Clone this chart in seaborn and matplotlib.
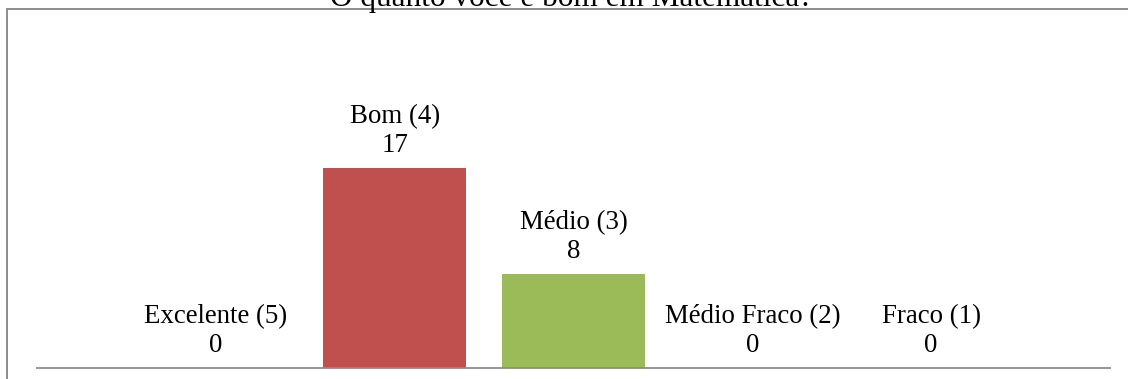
import matplotlib
matplotlib.use("Agg")
import matplotlib.pyplot as plt
import seaborn as sns
from matplotlib.lines import Line2D

# Survey answers: "How good are you at Mathematics?"
categories = ["Excelente (5)", "Bom (4)", "Médio (3)", "Médio Fraco (2)", "Fraco (1)"]
counts = [0, 17, 8, 0, 0]
colors = ["#4F81BD", "#C0504D", "#9BBB59", "#8064A2", "#4BACC6"]
title = "O quanto você é bom em Matemática?"

sns.set_style("white")
plt.rcParams["font.family"] = ["Liberation Serif", "DejaVu Serif"]

W, H = 1128, 379
fig = plt.figure(figsize=(W / 100, H / 100), dpi=100)
fig.patch.set_facecolor("white")

# plot area in pixel terms
left_px, right_px, top_px, base_px = 37, 1110, 8, 368
ax = fig.add_axes([left_px / W, (H - base_px) / H,
                   (right_px - left_px) / W, (base_px - top_px) / H])

sns.barplot(x=categories, y=counts, hue=categories, palette=colors,
            legend=False, width=0.8, saturation=1, linewidth=0,
            order=categories, hue_order=categories, ax=ax)

ax.set_xlim(-1, 5)
ax.set_ylim(0, 30.6)
ax.set_xticks([])
ax.set_yticks([])
ax.set_xlabel("")
ax.set_ylabel("")
for side in ("left", "right", "top"):
    ax.spines[side].set_visible(False)
ax.spines["bottom"].set_color("#8C8C8C")
ax.spines["bottom"].set_linewidth(1.3)

# data labels: category name above its value
for i, (cat, val) in enumerate(zip(categories, counts)):
    ax.annotate(f"{cat}\n{val}", xy=(i, val), xytext=(0, 7),
                textcoords="offset points", ha="center", va="bottom",
                fontsize=19.4, color="black", linespacing=1.2)

# chart-area frame (only its top and left edges fall inside the image)
fx = 6.5 / W
fy = 1 - 8.5 / H
fig.add_artist(Line2D([fx, fx], [fy, -0.1], transform=fig.transFigure,
                      color="#8C8C8C", linewidth=1.4, clip_on=False))
fig.add_artist(Line2D([fx, 1.1], [fy, fy], transform=fig.transFigure,
                      color="#8C8C8C", linewidth=1.4, clip_on=False))

fig.text(571 / W, 1 - 6 / H, title, ha="center", va="baseline",
         fontsize=22.5, color="black")

fig.savefig("out.png", dpi=100, facecolor="white")
